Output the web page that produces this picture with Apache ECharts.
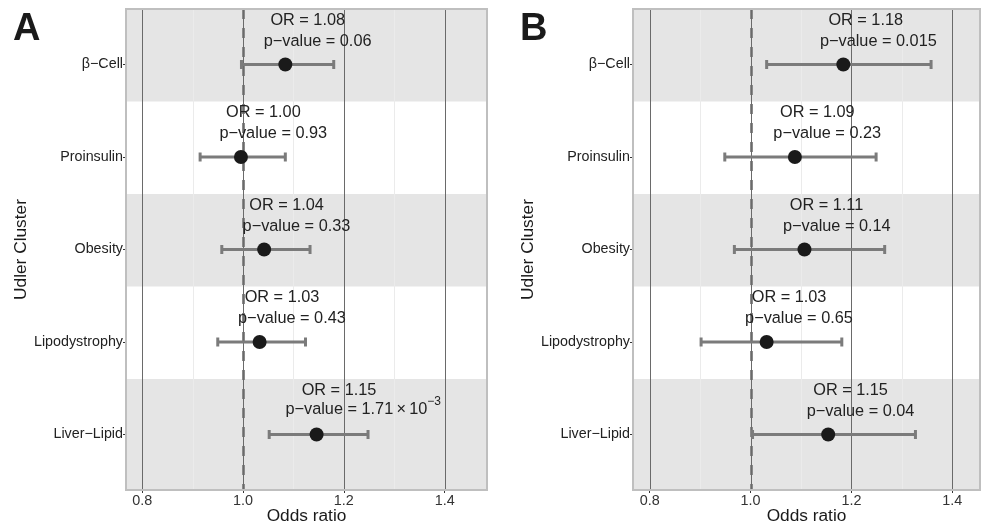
<!DOCTYPE html>
<html><head><meta charset="utf-8">
<script src="https://cdn.jsdelivr.net/npm/echarts@6/dist/echarts.min.js"></script>
<style>html,body{margin:0;padding:0;background:#fff}#c{width:982px;height:525px}</style>
</head><body><div id="c"></div>
<script>
// ---- data ----
const categories = ['β−Cell', 'Proinsulin', 'Obesity', 'Lipodystrophy', 'Liver−Lipid'];
const orA = [1.084, 0.996, 1.042, 1.033, 1.146];
const loA = [0.997, 0.915, 0.958, 0.950, 1.052];
const hiA = [1.180, 1.084, 1.133, 1.124, 1.248];
const pA  = ['0.06', '0.93', '0.33', '0.43', '1.71×10^−3'];
const orB = [1.184, 1.088, 1.107, 1.032, 1.154];
const loB = [1.032, 0.949, 0.968, 0.902, 1.004];
const hiB = [1.358, 1.249, 1.266, 1.181, 1.327];
const pB  = ['0.015', '0.23', '0.14', '0.65', '0.04'];
const xTicks = [0.8, 1.0, 1.2, 1.4];
const xMinor = [0.9, 1.1, 1.3];
const refLine = 1.0;
const panelLetters = ['A', 'B'];
const xTitle = 'Odds ratio';
const yTitle = 'Udler Cluster';

// ---- helpers ----
const FF = '"Liberation Sans", Arial, Helvetica, sans-serif';
const LBL = 16.3, SUP = 12;
const cv = document.createElement('canvas').getContext('2d');
function tw(t, size) { cv.font = size + 'px ' + FF; return cv.measureText(t).width; }
const Y_MIN = 0.4, Y_MAX = categories.length + 0.6;
const yVals = categories.map((c, i) => i + 1);

const chart = echarts.init(document.getElementById('c'), null, {renderer: 'canvas'});

const panels = [
  {or: orA, lo: loA, hi: hiA, p: pA, xmin: 0.768, xmax: 1.484, grid: {left: 126, top: 9, width: 361, height: 481}},
  {or: orB, lo: loB, hi: hiB, p: pB, xmin: 0.767, xmax: 1.455, grid: {left: 633, top: 9, width: 347, height: 481}}
];

const grids = [], xAxes = [], yAxes = [], series = [], graphics = [];
panels.forEach((P, k) => {
  grids.push(Object.assign({show: true, z: 10, backgroundColor: 'transparent', borderColor: '#bfbfbf', borderWidth: 2, containLabel: false, outerBoundsMode: 'none'}, P.grid));
  xAxes.push({
    type: 'value', gridIndex: k, min: P.xmin, max: P.xmax,
    axisLine: {show: false}, splitLine: {show: false},
    axisTick: {show: true, customValues: xTicks, length: 3, lineStyle: {color: '#333', width: 1}},
    axisLabel: {customValues: xTicks, formatter: v => v.toFixed(1), color: '#333', fontSize: 14.4, fontFamily: FF, margin: 4},
    name: xTitle, nameLocation: 'middle', nameGap: 18, nameMoveOverlap: false,
    nameTextStyle: {fontSize: 17.3, fontFamily: FF, color: '#1a1a1a'}
  });
  yAxes.push({
    type: 'value', gridIndex: k, min: Y_MIN, max: Y_MAX, inverse: true,
    axisLine: {show: false}, splitLine: {show: false},
    axisTick: {show: true, customValues: yVals, length: 3, lineStyle: {color: '#333', width: 1}},
    axisLabel: {customValues: yVals, formatter: v => categories[Math.round(v) - 1], color: '#222', fontSize: 14.3, fontFamily: FF, margin: 3},
    name: yTitle, nameLocation: 'middle', nameGap: 96, nameRotate: 90, nameMoveOverlap: false,
    nameTextStyle: {fontSize: 17.3, fontFamily: FF, color: '#1a1a1a'}
  });

  // bands
  const bands = [];
  yVals.forEach((v, i) => { if (i % 2 === 0) bands.push([v - 0.6, i === yVals.length - 1 ? Y_MAX : v + 0.4]); });
  series.push({
    type: 'custom', xAxisIndex: k, yAxisIndex: k, z: 1, silent: true,
    data: bands.map(b => [P.xmin, b[0], b[1]]), encode: {x: 0, y: [1, 2]},
    renderItem: (params, api) => {
      const cs = params.coordSys;
      const y1 = api.coord([P.xmin, api.value(1)])[1];
      const y2 = api.coord([P.xmin, api.value(2)])[1];
      return {type: 'rect', shape: {x: cs.x, y: Math.min(y1, y2), width: cs.width, height: Math.abs(y2 - y1)}, style: {fill: '#e5e5e5'}};
    }
  });
  // grid lines (minor, major) + reference dashed line
  const vline = (vals, style, z) => ({
    type: 'custom', xAxisIndex: k, yAxisIndex: k, z: z, silent: true,
    data: vals.map(v => [v, 1]), encode: {x: 0, y: 1},
    renderItem: (params, api) => {
      const cs = params.coordSys;
      const x = Math.round(api.coord([api.value(0), 1])[0]) + 0.5;
      return {type: 'line', shape: {x1: x, y1: cs.y, x2: x, y2: cs.y + cs.height}, style: style};
    }
  });
  series.push(vline(xMinor, {stroke: '#ebebeb', lineWidth: 1}, 2));
  series.push(vline(xTicks, {stroke: '#6a6a6a', lineWidth: 1}, 3));
  series.push(vline([refLine], {stroke: '#8a8a8a', lineWidth: 3, lineDash: [10, 9]}, 4));
  series.push(vline([refLine], {stroke: '#6a6a6a', lineWidth: 1}, 4));

  // error bars
  series.push({
    type: 'custom', xAxisIndex: k, yAxisIndex: k, z: 5, silent: true,
    data: yVals.map((v, i) => [P.lo[i], P.hi[i], v]), encode: {x: [0, 1], y: 2},
    renderItem: (params, api) => {
      const a = api.coord([api.value(0), api.value(2)]);
      const b = api.coord([api.value(1), api.value(2)]);
      const st = {stroke: '#7b7b7b', lineWidth: 3};
      return {type: 'group', children: [
        {type: 'line', shape: {x1: a[0], y1: a[1], x2: b[0], y2: b[1]}, style: st},
        {type: 'line', shape: {x1: a[0], y1: a[1] - 4.5, x2: a[0], y2: a[1] + 4.5}, style: st},
        {type: 'line', shape: {x1: b[0], y1: b[1] - 4.5, x2: b[0], y2: b[1] + 4.5}, style: st}
      ]};
    }
  });
  // points
  series.push({
    type: 'scatter', xAxisIndex: k, yAxisIndex: k, z: 6, silent: true,
    symbol: 'circle', symbolSize: 14, itemStyle: {color: '#1a1a1a', opacity: 1},
    data: yVals.map((v, i) => [P.or[i], v])
  });
  // text labels: anchored at OR, hjust ~0.2
  series.push({
    type: 'custom', xAxisIndex: k, yAxisIndex: k, z: 7, silent: true,
    data: yVals.map((v, i) => [P.or[i], v]), encode: {x: 0, y: 1},
    renderItem: (params, api) => {
      const i = params.dataIndex;
      const pt = api.coord([api.value(0), api.value(1)]);
      const t1 = 'OR = ' + P.or[i].toFixed(2);
      const w1 = tw(t1, LBL);
      const parts = P.p[i].split('^');
      const base = 'p−value = ' + parts[0].replace('×', '\u2009×\u2009');
      const wb = tw(base, LBL);
      const ws = parts[1] ? tw(parts[1], SUP) : 0;
      const w2 = wb + ws;
      const dy2 = parts[1] ? -25 : -23;
      const fill = '#222';
      const kids = [
        {type: 'text', x: pt[0] - 0.2 * w1, y: pt[1] - 44, style: {text: t1, fontSize: LBL, fontFamily: FF, fill: fill, align: 'left', verticalAlign: 'middle'}},
        {type: 'text', x: pt[0] - 0.2 * w2, y: pt[1] + dy2, style: {text: base, fontSize: LBL, fontFamily: FF, fill: fill, align: 'left', verticalAlign: 'middle'}}
      ];
      if (parts[1]) kids.push({type: 'text', x: pt[0] - 0.2 * w2 + wb, y: pt[1] + dy2 - 8, style: {text: parts[1], fontSize: SUP, fontFamily: FF, fill: fill, align: 'left', verticalAlign: 'middle'}});
      return {type: 'group', children: kids};
    }
  });
  graphics.push({type: 'text', left: P.grid.left - 113, top: 11, style: {text: panelLetters[k], fontSize: 38, fontWeight: 'bold', fontFamily: FF, fill: '#1a1a1a'}});
});

chart.setOption({
  animation: false,
  backgroundColor: '#ffffff',
  grid: grids, xAxis: xAxes, yAxis: yAxes, series: series, graphic: graphics
});
</script></body></html>
